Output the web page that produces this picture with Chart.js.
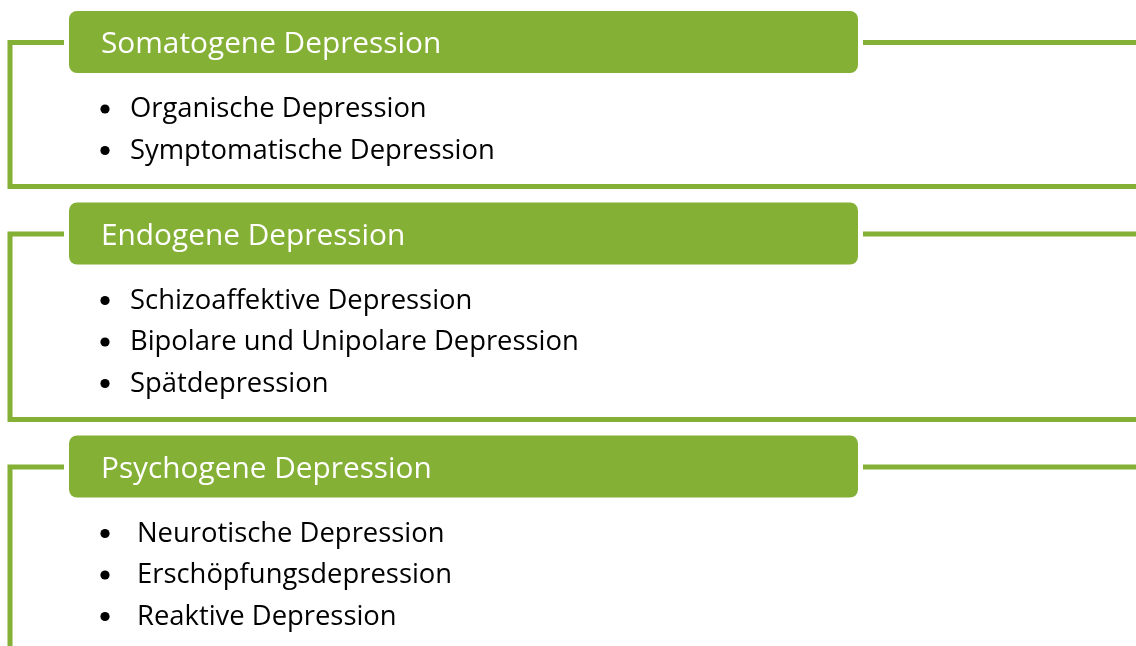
<!DOCTYPE html>
<html>
<head>
<meta charset="utf-8">
<script src="https://cdn.jsdelivr.net/npm/chart.js@4.4.0/dist/chart.umd.min.js"></script>
<style>
  html, body { margin: 0; padding: 0; background: #fff; }
  #wrap { width: 1136px; height: 646px; }
</style>
</head>
<body>
<div id="wrap"><canvas id="diagramm"></canvas></div>
<script>
// Daten: Gruppen und ihre Unterpunkte
const gruppen = ['Somatogene Depression', 'Endogene Depression', 'Psychogene Depression'];
const somatogen = ['Organische Depression', 'Symptomatische Depression'];
const endogen = ['Schizoaffektive Depression', 'Bipolare und Unipolare Depression', 'Spätdepression'];
const psychogen = ['Neurotische Depression', 'Erschöpfungsdepression', 'Reaktive Depression'];
const punkte = [somatogen, endogen, psychogen];

const gruen = '#84b036';
const einzug = [130, 130, 137]; // Textanfang der Listen

// Zeichnet Rahmen, Kopfboxen und Listen über die (unsichtbaren) Achsen
const gliederung = {
    id: 'gliederung',
    afterDraw(chart) {
        const c = chart.ctx;
        const x = v => chart.scales.x.getPixelForValue(v);
        const y = v => chart.scales.y.getPixelForValue(v);
        c.save();
        let oben = 11;
        gruppen.forEach((titel, g) => {
            const mitte = oben + 31.5;
            const liste = punkte[g];
            const letzte = oben + 96 + (liste.length - 1) * 41.5;
            const unten = g === gruppen.length - 1 ? 700 : letzte + 38;

            // Rahmenlinien
            c.strokeStyle = gruen;
            c.lineWidth = 5;
            c.lineCap = 'butt';
            c.beginPath();
            c.moveTo(x(64), y(mitte));
            c.lineTo(x(10), y(mitte));
            c.lineTo(x(10), y(unten));
            if (g < gruppen.length - 1) c.lineTo(x(1140), y(unten));
            c.moveTo(x(863), y(mitte));
            c.lineTo(x(1140), y(mitte));
            c.stroke();

            // Kopfbox
            c.fillStyle = gruen;
            c.beginPath();
            c.roundRect(x(69), y(oben), x(858) - x(69), y(oben + 62) - y(oben), 8);
            c.fill();
            c.fillStyle = '#ffffff';
            c.font = '29.8px "Open Sans"';
            c.textBaseline = 'alphabetic';
            c.fillText(titel, x(101), y(mitte + 10.5));

            // Liste
            c.font = '27.4px "Open Sans"';
            liste.forEach((t, i) => {
                const zy = oben + 96 + i * 41.5;
                c.fillStyle = '#000000';
                c.beginPath();
                c.arc(x(105), y(zy + 2), 4.6, 0, Math.PI * 2);
                c.fill();
                c.fillText(t, x(einzug[g]), y(zy + 10));
            });
            oben = unten + 16;
        });
        c.restore();
    }
};

new Chart(document.getElementById('diagramm'), {
    type: 'scatter',
    data: { datasets: [{ data: [] }] },
    options: {
        responsive: true,
        maintainAspectRatio: false,
        animation: false,
        layout: { padding: 0 },
        plugins: { legend: { display: false }, tooltip: { enabled: false } },
        scales: {
            x: { type: 'linear', min: 0, max: 1136, display: false },
            y: { type: 'linear', min: 0, max: 646, reverse: true, display: false }
        }
    },
    plugins: [gliederung]
});
</script>
</body>
</html>
